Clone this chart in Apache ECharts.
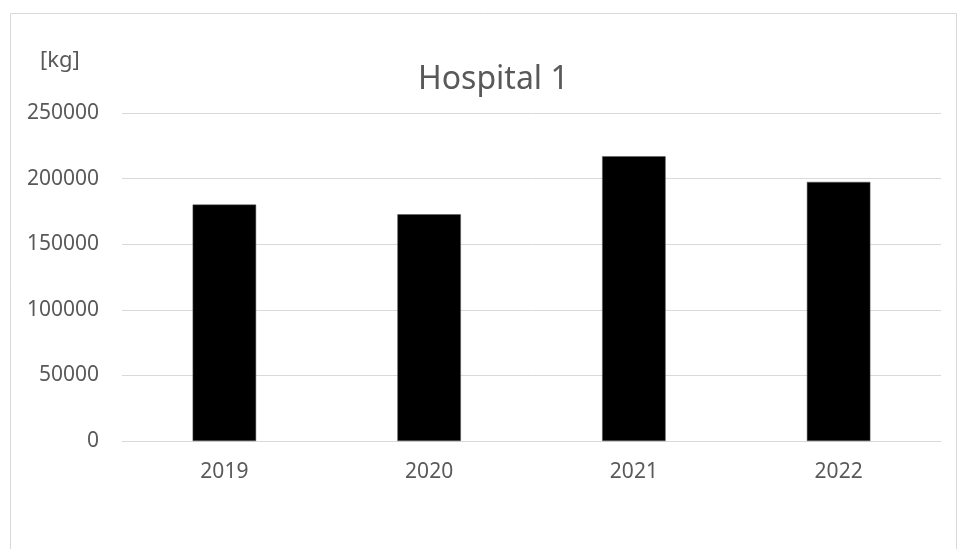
<!DOCTYPE html>
<html>
<head>
<meta charset="utf-8">
<script src="https://cdn.jsdelivr.net/npm/echarts@6/dist/echarts.min.js"></script>
<style>
html,body{margin:0;padding:0;background:#fff;}
#chart{width:958px;height:549px;}
</style>
</head>
<body>
<div id="chart"></div>
<script>
var categories = ['2019', '2020', '2021', '2022'];
var values = [180200, 172800, 217000, 197500];
var yTicks = [0, 50000, 100000, 150000, 200000, 250000];
var titleText = 'Hospital 1';
var unitText = '[kg]';

var FONT = '"Noto Sans", "Open Sans", sans-serif';
var chart = echarts.init(document.getElementById('chart'));
chart.setOption({
  animation: false,
  backgroundColor: '#ffffff',
  title: {
    text: titleText,
    left: 413,
    top: 59,
    textStyle: { fontFamily: FONT, fontSize: 32, fontWeight: 'normal', color: '#595959' }
  },
  graphic: [
    { type: 'rect', shape: { x: 10.5, y: 13.5, width: 946, height: 600 },
      style: { fill: 'none', stroke: '#d9d9d9', lineWidth: 1 }, silent: true, z: -1 },
    { type: 'text', left: 40, top: 50,
      style: { text: unitText, font: '22px ' + FONT, fill: '#595959' } }
  ],
  grid: { left: 122, right: 17, top: 113, bottom: 108 },
  xAxis: {
    type: 'category',
    data: categories,
    axisLine: { lineStyle: { color: '#d9d9d9', width: 1 } },
    axisTick: { show: false },
    axisLabel: { fontFamily: FONT, fontSize: 21, color: '#595959', margin: 21 }
  },
  yAxis: {
    type: 'value',
    min: yTicks[0],
    max: yTicks[yTicks.length - 1],
    interval: yTicks[1] - yTicks[0],
    axisLine: { show: false },
    axisTick: { show: false },
    splitLine: { lineStyle: { color: '#d9d9d9', width: 1 } },
    axisLabel: { fontFamily: FONT, fontSize: 21, color: '#595959', margin: 23,
      formatter: function (v) { return String(v); } }
  },
  series: [{
    type: 'bar',
    data: values,
    barWidth: '31%',
    itemStyle: { color: '#000000', borderColor: '#5a5a5a', borderWidth: 0.5 }
  }]
});
</script>
</body>
</html>
